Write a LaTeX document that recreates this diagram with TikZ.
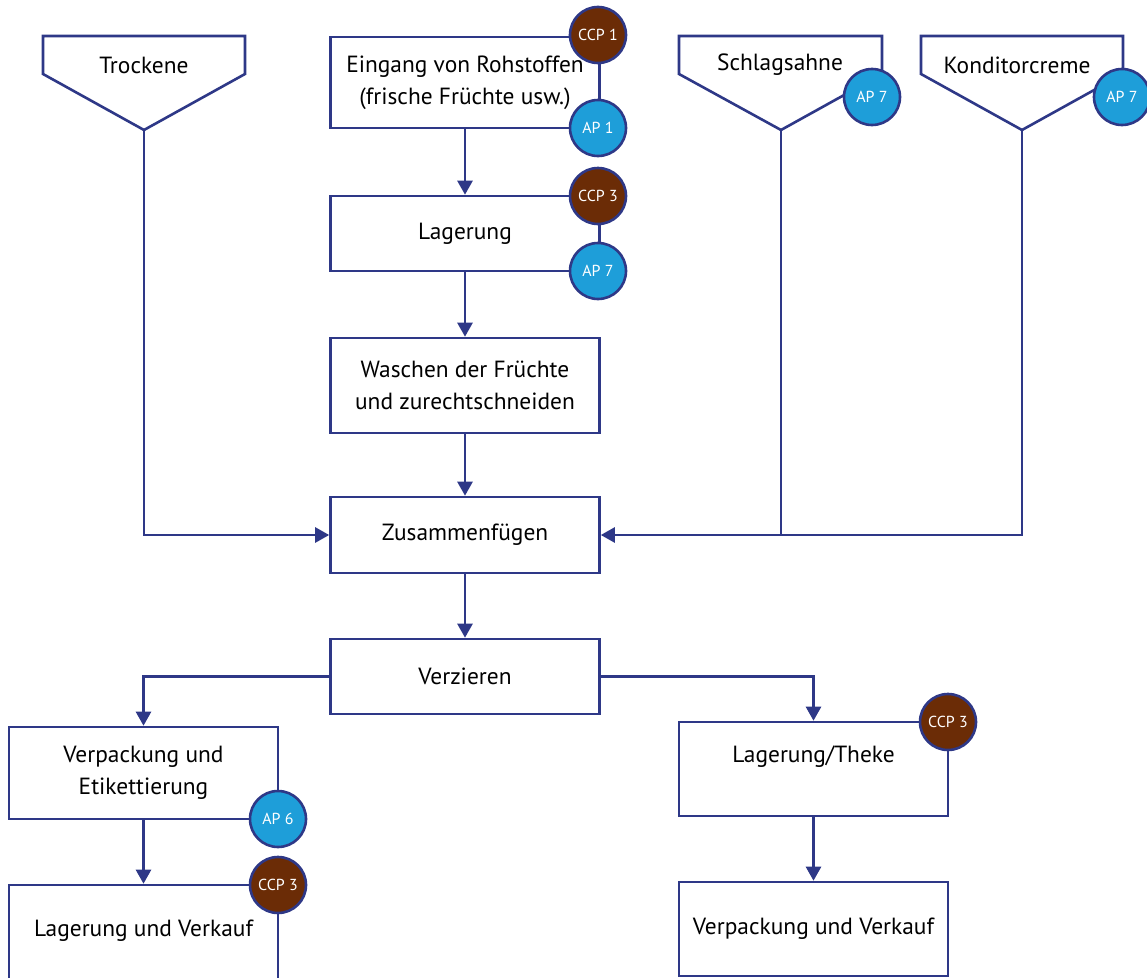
\documentclass[tikz,border=0pt]{standalone}
\usepackage{fontspec}
\setmainfont{PT Sans}
\usetikzlibrary{arrows.meta}
\definecolor{navy}{RGB}{46,56,135}
\definecolor{ccpbrown}{RGB}{107,44,6}
\definecolor{apblue}{RGB}{30,158,217}
\begin{document}
\begin{tikzpicture}[x=1bp,y=-1bp,
  stepbox/.style={draw=navy, line width=2.6bp, fill=white, rectangle,
    minimum width=269bp, minimum height=#1, inner sep=0pt, align=center,
    font=\fontsize{23.5}{32}\selectfont, text=black},
  label/.style={inner sep=0pt, align=center, font=\fontsize{23.5}{32}\selectfont, text=black},
  funnel/.style={draw=navy, line width=2.6bp, fill=white, line join=miter},
  flow/.style={draw=navy, line width=2.6bp, -{Triangle[length=14bp,width=15bp]}},
  link/.style={draw=navy, line width=2.6bp},
  ccp/.style={circle, draw=navy, line width=2.6bp, fill=ccpbrown, minimum size=56bp,
    inner sep=0pt, text=white, font=\fontsize{16}{18}\selectfont},
  ap/.style={ccp, fill=apblue}]
\useasboundingbox (0,0) rectangle (1147,978);

% supply funnels
\draw[funnel] (43,36) -- (245,36) -- (245,74) -- (144,130) -- (43,74) -- cycle;
\coordinate (trTip) at (144,130);
\node[label] (trText) at (144,65) {Trockene};
\draw[funnel] (679,36) -- (882,36) -- (882,74) -- (781,130) -- (679,74) -- cycle;
\coordinate (saTip) at (781,130);
\node[label] (saText) at (780,65) {Schlagsahne};
\draw[funnel] (921,36) -- (1123,36) -- (1123,74) -- (1022,130) -- (921,74) -- cycle;
\coordinate (koTip) at (1022,130);
\node[label] (koText) at (1017,65) {Konditorcreme};

% process steps
\node[stepbox=91bp] (eingang) at (465,82.5) {Eingang von Rohstoffen\\(frische Früchte usw.)};
\node[stepbox=75bp] (lager) at (465,233.5) {Lagerung};
\node[stepbox=95bp] (wasch) at (465,385.5) {Waschen der Früchte\\und zurechtschneiden};
\node[stepbox=76bp] (zusammen) at (465,535) {Zusammenfügen};
\node[stepbox=75bp] (verz) at (465,676.5) {Verzieren};
\node[stepbox=92bp] (verpack) at (143.5,773) {Verpackung und\\Etikettierung};
\node[stepbox=110bp] (lagverk) at (143.5,940) {};
\node[label] (lagverkText) at (143.5,931) {Lagerung und Verkauf};
\node[stepbox=94bp] (theke) at (813.5,769) {};
\node[label] (thekeText) at (813.5,757) {Lagerung/Theke};
\node[stepbox=94bp] (verpverk) at (813.5,929) {Verpackung und Verkauf};

% connectors
\draw[flow] (eingang) -- (lager);
\draw[flow] (lager) -- (wasch);
\draw[flow] (wasch) -- (zusammen);
\draw[flow] (trTip) |- (zusammen.west);
\draw[flow] (koTip) |- (zusammen.east);
\coordinate (saJoin) at (saTip |- zusammen.east);
\draw[link] (saTip) -- (saJoin);
\draw[flow] (zusammen) -- (verz);
\draw[flow] (verz.west) -| (verpack.north);
\draw[flow] (verz.east) -| (theke.north);
\draw[flow] (verpack) -- (lagverk);
\draw[flow] (theke) -- (verpverk);

% control point badges
\node[ccp] (ccp1) at (598,35) {CCP 1};
\node[ap] (ap1) at (598,128) {AP 1};
\node[ccp] (ccp3a) at (598,196) {CCP 3};
\node[ap] (ap7a) at (598,271) {AP 7};
\node[ap] (ap7b) at (872,97) {AP 7};
\node[ap] (ap7c) at (1122,97) {AP 7};
\node[ccp] (ccp3b) at (948,722) {CCP 3};
\node[ap] (ap6) at (278,819) {AP 6};
\node[ccp] (ccp3c) at (278,885) {CCP 3};
\end{tikzpicture}
\end{document}
